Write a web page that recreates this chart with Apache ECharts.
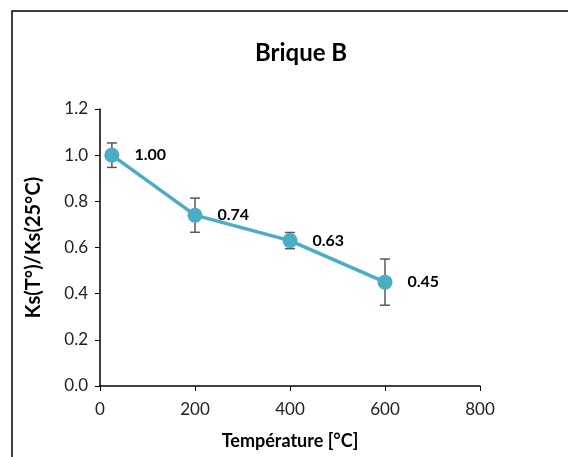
<!DOCTYPE html>
<html><head><meta charset="utf-8">
<script src="https://cdn.jsdelivr.net/npm/echarts@6/dist/echarts.min.js"></script>
<style>html,body{margin:0;padding:0;background:#fff}#c{width:568px;height:457px}</style>
</head><body><div id="c"></div>
<script>
const temperatures = [25, 200, 400, 600];
const ratios = [1.00, 0.74, 0.63, 0.45];
const errors = [0.053, 0.074, 0.035, 0.10];
const xTicks = [0, 200, 400, 600, 800];
const yTicks = [0.0, 0.2, 0.4, 0.6, 0.8, 1.0, 1.2];

const chart = echarts.init(document.getElementById('c'));
const font = 'Lato, "Noto Sans", sans-serif';
const pts = temperatures.map((t, i) => [t, ratios[i]]);
const errData = temperatures.map((t, i) => [t, ratios[i] - errors[i], ratios[i] + errors[i]]);

chart.setOption({
  animation: false,
  graphic: [{ type: 'rect', shape: { x: 12, y: 11, width: 700, height: 600 },
    style: { fill: 'none', stroke: '#000', lineWidth: 1.5 }, z: -1 }],
  title: { text: 'Brique B', left: 296, textAlign: 'center', top: 36,
    textStyle: { fontFamily: font, fontWeight: 'bold', fontSize: 24, color: '#000' } },
  grid: { left: 100, right: 88, top: 109, bottom: 71 },
  xAxis: {
    type: 'value', min: xTicks[0], max: xTicks[xTicks.length - 1], interval: 200,
    name: 'Température [°C]', nameLocation: 'middle', nameGap: 46,
    nameTextStyle: { fontFamily: font, fontWeight: 'bold', fontSize: 18, color: '#000' },
    axisLine: { lineStyle: { color: '#000', width: 1.5 } },
    axisTick: { show: true, length: 5, lineStyle: { color: '#000' } },
    axisLabel: { fontFamily: font, fontSize: 17, color: '#222', margin: 15 },
    splitLine: { show: false }
  },
  yAxis: {
    type: 'value', min: yTicks[0], max: yTicks[yTicks.length - 1], interval: 0.2,
    name: 'Ks(T°)/Ks(25°C)', nameLocation: 'middle', nameGap: 56,
    nameTextStyle: { fontFamily: font, fontWeight: 'bold', fontSize: 20, color: '#000' },
    axisLine: { show: true, lineStyle: { color: '#000', width: 1.5 } },
    axisTick: { show: true, length: 5, lineStyle: { color: '#000' } },
    axisLabel: { fontFamily: font, fontSize: 17, color: '#222', margin: 12,
      formatter: v => v.toFixed(1) },
    splitLine: { show: false }
  },
  series: [
    {
      type: 'custom', z: 1,
      renderItem: function (params, api) {
        const x = api.value(0);
        const lo = api.coord([x, api.value(1)]);
        const hi = api.coord([x, api.value(2)]);
        const hw = 5;
        const st = { stroke: '#595959', lineWidth: 1.5 };
        return { type: 'group', children: [
          { type: 'line', shape: { x1: lo[0], y1: lo[1], x2: hi[0], y2: hi[1] }, style: st },
          { type: 'line', shape: { x1: lo[0] - hw, y1: lo[1], x2: lo[0] + hw, y2: lo[1] }, style: st },
          { type: 'line', shape: { x1: hi[0] - hw, y1: hi[1], x2: hi[0] + hw, y2: hi[1] }, style: st }
        ]};
      },
      encode: { x: 0, y: [1, 2] },
      data: errData
    },
    {
      type: 'line', z: 2, data: pts,
      symbol: 'circle', symbolSize: 15,
      lineStyle: { color: '#4BACC6', width: 3.5 },
      itemStyle: { color: '#4BACC6' },
      label: { show: true, position: 'right', distance: 15,
        fontFamily: font, fontWeight: 'bold', fontSize: 16, color: '#000',
        formatter: p => p.value[1].toFixed(2) }
    }
  ]
});
</script></body></html>
